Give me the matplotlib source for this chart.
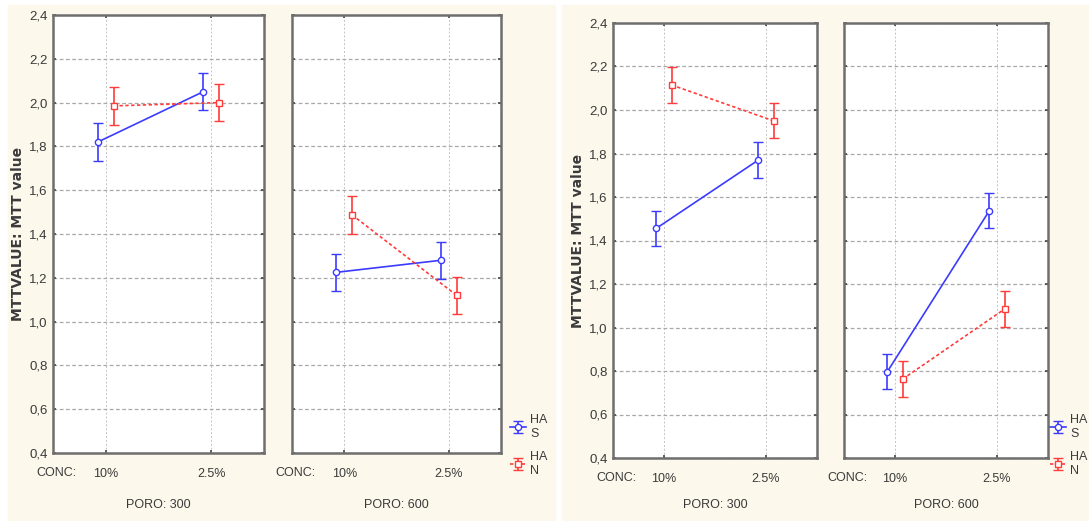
import matplotlib.pyplot as plt
from matplotlib.patches import Rectangle


W, H = 1089, 521

conc = ["10%", "2.5%"]
poro = ["PORO: 300", "PORO: 600"]
y_ticks = [0.4, 0.6, 0.8, 1.0, 1.2, 1.4, 1.6, 1.8, 2.0, 2.2, 2.4]
y_labels = ["0,4", "0,6", "0,8", "1,0", "1,2", "1,4", "1,6", "1,8", "2,0", "2,2", "2,4"]
legend_labels = ["HA\nS", "HA\nN"]

# left chart (first experiment)
has_a = [[1.82, 2.05], [1.225, 1.28]]
han_a = [[1.985, 2.00], [1.487, 1.12]]
err_a = 0.085

# right chart (second experiment)
has_b = [[1.456, 1.77], [0.797, 1.537]]
han_b = [[2.115, 1.95], [0.763, 1.085]]
err_b = 0.081

BLUE = "#3b3bff"
RED = "#ff3b3b"
CREAM = "#fdf8ec"
TEXT = "#3a3a3a"
FONT = ["Liberation Sans Narrow", "Liberation Sans", "DejaVu Sans"]


def px_axes(fig, left, right, top, bottom):
    return fig.add_axes([left / W, 1 - bottom / H, (right - left) / W, (bottom - top) / H])


def draw_panel(ax, has, han, err, show_y):
    x = range(len(conc))
    hs = ax.errorbar([i - 0.075 for i in x], has, yerr=err, color=BLUE, lw=1.2,
                     marker="o", ms=4.5, mfc="white", mec=BLUE, mew=1.0,
                     capsize=3.5, capthick=1.2, elinewidth=1.2)
    hn = ax.errorbar([i + 0.075 for i in x], han, yerr=err, color=RED, lw=1.2,
                     ls=(0, (2, 1.5)), marker="s", ms=4.5, mfc="white", mec=RED,
                     mew=1.0, capsize=3.5, capthick=1.2, elinewidth=1.2)
    ax.set_xlim(-0.5, 1.5)
    ax.set_ylim(0.4, 2.4)
    ax.set_yticks(y_ticks)
    ax.set_xticks(list(x))
    ax.set_xticklabels(conc, fontfamily=FONT, fontsize=9, color=TEXT)
    if show_y:
        ax.set_yticklabels(y_labels, fontfamily=FONT, fontsize=9.5, color=TEXT)
    else:
        ax.set_yticklabels([])
    ax.tick_params(direction="in", length=2.5, width=1.2, color="#444444",
                   top=True, right=True, pad=4)
    ax.tick_params(axis="x", pad=11)
    ax.grid(axis="y", color="#a8a8a8", ls=(0, (3, 2)), lw=0.9)
    ax.grid(axis="x", color="#c4c4c4", ls=(0, (2, 2)), lw=0.7)
    ax.set_axisbelow(True)
    for sp in ax.spines.values():
        sp.set_color("#6e6e6e")
        sp.set_linewidth(1.8)
    return hs, hn


def main() -> None:
    fig = plt.figure(figsize=(W / 100, H / 100), dpi=100, facecolor="white")

    fig.patches.append(Rectangle((8 / W, 0), (555 - 8) / W, 1 - 5 / H,
                                 transform=fig.transFigure, color=CREAM, zorder=-5))
    fig.patches.append(Rectangle((562 / W, 0), (W - 562) / W, 1 - 5 / H,
                                 transform=fig.transFigure, color=CREAM, zorder=-5))

    groups = [
        (has_a, han_a, err_a, [(53, 264), (292, 501)], 15, 453, 18, 510),
        (has_b, han_b, err_b, [(613, 817), (844, 1048)], 23, 458, 578, 1050),
    ]

    for has, han, err, spans, top, bottom, ylab_x, leg_x in groups:
        handles = None
        for k, (l, r) in enumerate(spans):
            ax = px_axes(fig, l, r, top, bottom)
            h = draw_panel(ax, has[k], han[k], err, show_y=(k == 0))
            if handles is None:
                handles = h
            fig.text((l - 17) / W, 1 - (bottom + 20) / H, "CONC:", fontfamily=FONT,
                     fontsize=9, color=TEXT, ha="left", va="center")
            fig.text((l + r) / 2 / W, 1 - 505 / H, poro[k], fontfamily=FONT,
                     fontsize=9, color=TEXT, ha="center", va="center")
        fig.text(ylab_x / W, 1 - (top + bottom) / 2 / H, "MTTVALUE: MTT value",
                 rotation=90, fontsize=10, fontweight="bold", color=TEXT,
                 ha="center", va="center")
        fig.legend(handles, legend_labels, loc="upper left",
                   bbox_to_anchor=(leg_x / W, 1 - 414 / H), frameon=False,
                   prop={"family": FONT, "size": 9}, handlelength=1.3,
                   handletextpad=0.3, labelspacing=0.9, borderpad=0,
                   borderaxespad=0, labelcolor=TEXT)

    fig.savefig("out.png", dpi=100, facecolor="white")


if __name__ == "__main__":
    main()
